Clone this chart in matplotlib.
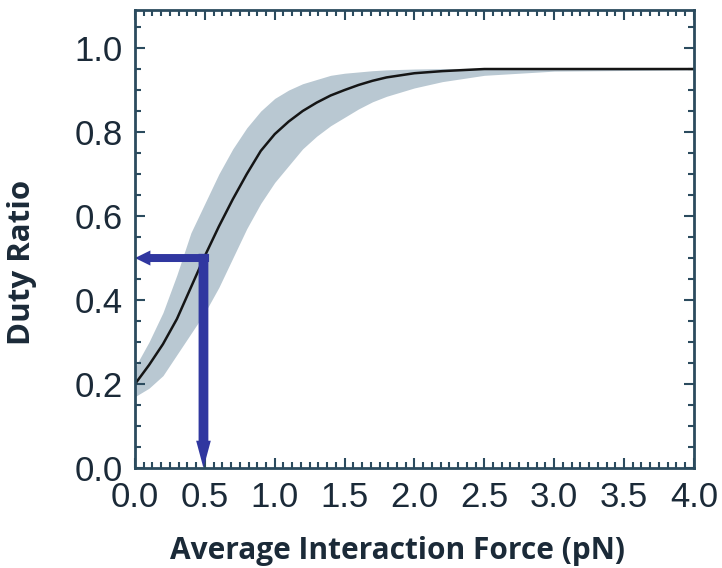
import numpy as np
import matplotlib
matplotlib.use("Agg")
import matplotlib.pyplot as plt
from matplotlib.ticker import MultipleLocator, FormatStrFormatter

# duty ratio vs average interaction force, with the spread of the model
force = [0.0, 0.1, 0.2, 0.3, 0.4, 0.5, 0.6, 0.7, 0.8, 0.9, 1.0,
         1.1, 1.2, 1.3, 1.4, 1.5, 1.6, 1.7, 1.8, 2.0, 2.2, 2.5, 3.0, 4.0]
duty = [0.20, 0.245, 0.295, 0.355, 0.43, 0.505, 0.575, 0.64, 0.70, 0.755, 0.795,
        0.825, 0.85, 0.87, 0.887, 0.90, 0.912, 0.922, 0.93, 0.94, 0.945,
        0.95, 0.95, 0.95]
duty_hi = [0.24, 0.30, 0.37, 0.46, 0.56, 0.63, 0.70, 0.76, 0.81, 0.85, 0.88,
           0.90, 0.915, 0.925, 0.935, 0.94, 0.943, 0.946, 0.948, 0.95, 0.951,
           0.952, 0.952, 0.952]
duty_lo = [0.17, 0.19, 0.22, 0.27, 0.32, 0.37, 0.43, 0.50, 0.57, 0.63, 0.68,
           0.72, 0.76, 0.79, 0.815, 0.835, 0.855, 0.872, 0.885, 0.905, 0.92,
           0.935, 0.945, 0.948]

# half-saturation point marked with arrows
half_force = 0.49
half_duty = 0.50

frame = '#2b4b5e'
text_col = '#1b2a38'
arrow_col = '#3037a0'

fig = plt.figure(figsize=(7.22, 5.68), dpi=100)
ax = fig.add_axes([0.187, 0.176, 0.774, 0.806])

ax.fill_between(force, duty_lo, duty_hi, color='#b9c8d2', lw=0, zorder=1)
ax.plot(force, duty, color='#151515', lw=1.8, zorder=2)

# arrow widths are in data units (x: ~140 px per unit, y: ~420 px per unit)
ax.arrow(half_force + 0.04, half_duty, -(half_force + 0.04), 0,
         width=0.019, head_width=0.036, head_length=0.11,
         length_includes_head=True, color=arrow_col, lw=0, zorder=4)
ax.arrow(half_force, half_duty + 0.01, 0, -(half_duty + 0.01),
         width=0.07, head_width=0.105, head_length=0.065,
         length_includes_head=True, color=arrow_col, lw=0, zorder=4)

ax.set_xlim(0, 4.0)
ax.set_ylim(0, 1.09)
ax.xaxis.set_major_locator(MultipleLocator(0.5))
ax.xaxis.set_minor_locator(MultipleLocator(0.0625))
ax.yaxis.set_major_locator(MultipleLocator(0.2))
ax.yaxis.set_minor_locator(MultipleLocator(0.05))
ax.xaxis.set_major_formatter(FormatStrFormatter('%.1f'))
ax.yaxis.set_major_formatter(FormatStrFormatter('%.1f'))

for s in ax.spines.values():
    s.set_color(frame)
    s.set_linewidth(2)
    s.set_zorder(5)

ax.tick_params(which='both', direction='in', top=True, right=True,
               color=frame, width=1.5)
ax.tick_params(which='major', length=7, labelsize=25, labelcolor=text_col)
ax.tick_params(axis='x', which='major', pad=9)
ax.tick_params(axis='y', which='major', pad=9)
ax.tick_params(which='minor', length=4)
for lab in ax.get_xticklabels() + ax.get_yticklabels():
    lab.set_fontfamily('Liberation Sans')

ax.set_xlabel('Average Interaction Force (pN)', fontsize=21.5, fontweight='bold',
              family='Open Sans', color=text_col)
ax.set_ylabel('Duty Ratio', fontsize=22.5, fontweight='bold',
              family='Open Sans', color=text_col)
ax.xaxis.set_label_coords(0.47, -0.148)
ax.yaxis.set_label_coords(-0.175, 0.45)

fig.savefig('out.png', dpi=100)
